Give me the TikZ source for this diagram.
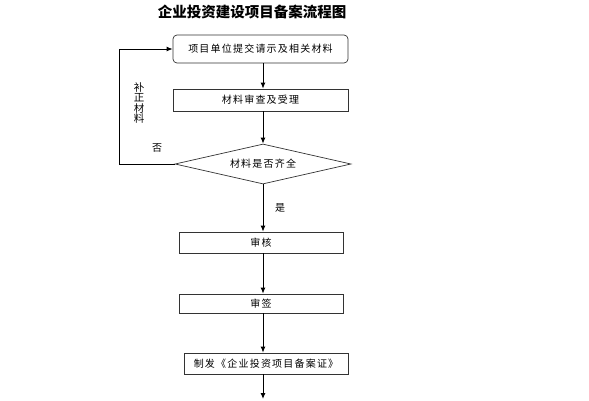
\documentclass[tikz,border=0pt]{standalone}
\usepackage{fontspec}
\newfontfamily\cjk{Noto Sans CJK SC}
\newfontfamily\cjkw[LetterSpace=12]{Noto Sans CJK SC}
\usetikzlibrary{shapes.geometric,arrows.meta}
\begin{document}
\begin{tikzpicture}[x=1pt,y=-1pt,
  every node/.style={font=\cjkw\fontsize{10}{12}\selectfont},
  procbox/.style={draw=black!80,line width=0.7pt,minimum height=#1,inner sep=0pt},
  flow/.style={-{Latex[length=6pt,width=5pt]},line width=1pt,black}]
\useasboundingbox (0,0) rectangle (589,400);
\fill[white] (0,0) rectangle (589,400);
\node[font=\cjk\bfseries\fontsize{14.5}{16}\selectfont] (title) at (252,12) {企业投资建设项目备案流程图};
\node[procbox=28pt,minimum width=175pt,rounded corners=4pt] (b1) at (260.5,49) {项目单位提交请示及相关材料};
\node[procbox=22pt,minimum width=175pt] (b2) at (260.5,100) {材料审查及受理};
\node[draw=black!80,line width=0.7pt,diamond,aspect=4.4,minimum width=176pt,minimum height=40pt,inner sep=0pt] (d) at (263,164) {材料是否齐全};
\node[procbox=21pt,minimum width=164pt] (b3) at (261,242.5) {审核};
\node[procbox=19pt,minimum width=164pt] (b4) at (261,303.5) {审签};
\node[procbox=21pt,minimum width=164pt] (b5) at (266,363.5) {制发《企业投资项目备案证》};
\coordinate (end) at (263,399);
\coordinate (lc) at (119,164);
\coordinate (lt) at (119,49);
\draw[flow] (b1.south -| 263,0) -- (b2.north -| 263,0);
\draw[flow] (b2.south -| 263,0) -- (d.north);
\draw[flow] (d.south) -- (b3.north -| 263,0);
\draw[flow] (b3.south -| 263,0) -- (b4.north -| 263,0);
\draw[flow] (b4.south -| 263,0) -- (b5.north -| 263,0);
\draw[flow] (b5.south -| 263,0) -- (end);
\draw[flow] (d.west) -- (lc) -- (lt) -- (b1.west);
\node[align=center,font=\cjk\fontsize{10.5}{10.5}\selectfont] (lab) at (139,103) {补\\正\\材\\料};
\node[font=\cjk\fontsize{10}{12}\selectfont] (no) at (157,148) {否};
\node[font=\cjk\fontsize{10}{12}\selectfont] (yes) at (280,208) {是};
\end{tikzpicture}
\end{document}
